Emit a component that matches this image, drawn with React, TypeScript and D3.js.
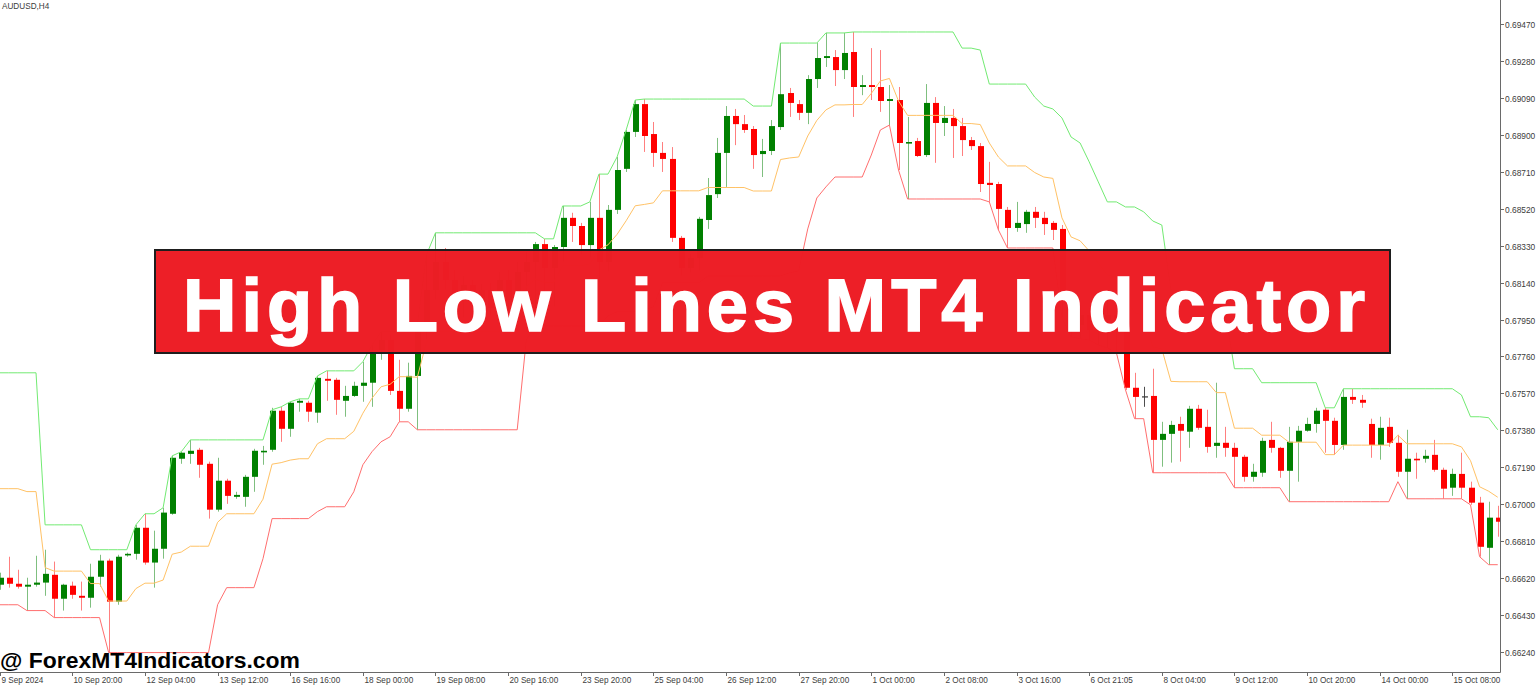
import React from 'react';
import * as d3 from 'd3';

const symbolLabel = 'AUDUSD,H4';
const bannerTitle = 'High Low Lines MT4 Indicator';
const watermark = '@ ForexMT4Indicators.com';

const open = [
  0.66586,0.66622,0.66591,0.66576,0.66586,0.66597,0.66637,0.66514,0.66581,0.66529,
  0.66519,0.66627,0.66710,0.66499,0.66740,0.66745,0.66879,0.66700,0.66771,0.66951,
  0.67234,0.67259,0.67280,0.67208,0.66972,0.67121,0.67038,0.67038,0.67141,0.67270,
  0.67280,0.67481,0.67388,0.67522,0.67522,0.67471,0.67645,0.67640,0.67532,0.67557,
  0.67609,0.67625,0.67794,0.67845,0.67583,0.67491,0.67660,0.67897,0.68102,0.68247,
  0.68154,0.68051,0.68128,0.68025,0.68102,0.68010,0.68154,0.68051,0.68195,0.68247,
  0.68338,0.68216,0.68323,0.68473,0.68431,0.68333,0.68473,0.68247,0.68514,0.68725,
  0.68915,0.69058,0.68904,0.68807,0.68776,0.68370,0.68216,0.68267,0.68462,0.68595,
  0.68807,0.68997,0.68955,0.68930,0.68801,0.68817,0.68940,0.69115,0.69058,0.69013,
  0.69187,0.69295,0.69300,0.69233,0.69326,0.69146,0.69156,0.69146,0.69074,0.69079,
  0.68858,0.68868,0.68796,0.69064,0.68961,0.68987,0.68945,0.68873,0.68842,0.68653,
  0.68647,0.68514,0.68421,0.68441,0.68504,0.68473,0.68447,0.68416,0.68051,0.67922,
  0.67974,0.67897,0.67948,0.67974,0.67897,0.67599,0.67552,0.67557,0.67331,0.67362,
  0.67413,0.67373,0.67491,0.67398,0.67300,0.67316,0.67290,0.67244,0.67141,0.67162,
  0.67331,0.67290,0.67172,0.67321,0.67378,0.67413,0.67486,0.67429,0.67305,0.67552,
  0.67537,0.67413,0.67305,0.67398,0.67316,0.67167,0.67234,0.67234,0.67254,0.67177,
  0.67085,0.67156,0.67085,0.67008,0.66776,0.66931,
];

const high = [
  0.66648,0.66730,0.66663,0.66622,0.66735,0.66766,0.66705,0.66591,0.66602,0.66602,
  0.66694,0.66740,0.66720,0.66740,0.66751,0.66894,0.66951,0.66864,0.66982,0.67249,
  0.67270,0.67331,0.67290,0.67219,0.67239,0.67131,0.67064,0.67151,0.67285,0.67300,
  0.67496,0.67501,0.67527,0.67542,0.67532,0.67660,0.67686,0.67650,0.67609,0.67630,
  0.67733,0.67819,0.67887,0.67871,0.67743,0.67728,0.67922,0.68282,0.68396,0.68318,
  0.68205,0.68174,0.68154,0.68133,0.68139,0.68195,0.68205,0.68247,0.68298,0.68349,
  0.68365,0.68333,0.68534,0.68499,0.68447,0.68555,0.68698,0.68539,0.68786,0.68925,
  0.69079,0.69084,0.68966,0.68863,0.68837,0.68380,0.68287,0.68478,0.68678,0.68884,
  0.69048,0.69033,0.69002,0.68945,0.68879,0.68976,0.69372,0.69141,0.69079,0.69207,
  0.69372,0.69424,0.69336,0.69424,0.69429,0.69207,0.69346,0.69336,0.69156,0.69146,
  0.68992,0.68884,0.69161,0.69094,0.69048,0.69033,0.68987,0.68889,0.68858,0.68761,
  0.68658,0.68529,0.68555,0.68514,0.68529,0.68504,0.68457,0.68436,0.68102,0.68025,
  0.68010,0.67959,0.68097,0.67985,0.67985,0.67676,0.67604,0.67697,0.67424,0.67429,
  0.67450,0.67506,0.67511,0.67486,0.67625,0.67398,0.67316,0.67254,0.67208,0.67342,
  0.67424,0.67295,0.67398,0.67403,0.67445,0.67496,0.67496,0.67445,0.67594,0.67594,
  0.67562,0.67440,0.67450,0.67445,0.67357,0.67383,0.67265,0.67280,0.67331,0.67188,
  0.67183,0.67265,0.67116,0.67038,0.67013,0.66992,
];

const low = [
  0.66560,0.66571,0.66566,0.66453,0.66576,0.66529,0.66417,0.66453,0.66514,0.66453,
  0.66468,0.66576,0.66237,0.66483,0.66730,0.66715,0.66689,0.66571,0.66720,0.66946,
  0.67208,0.67208,0.67136,0.66926,0.66962,0.67002,0.67028,0.66987,0.67064,0.67203,
  0.67270,0.67321,0.67347,0.67476,0.67424,0.67419,0.67532,0.67460,0.67450,0.67552,
  0.67527,0.67501,0.67743,0.67562,0.67424,0.67476,0.67383,0.67845,0.68051,0.68102,
  0.68000,0.67959,0.67969,0.67990,0.67969,0.67917,0.67969,0.68010,0.68102,0.67990,
  0.68000,0.68015,0.68247,0.68349,0.68282,0.68267,0.68139,0.68195,0.68493,0.68709,
  0.68889,0.68812,0.68735,0.68709,0.68349,0.68174,0.68190,0.68200,0.68416,0.68575,
  0.68632,0.68847,0.68910,0.68725,0.68683,0.68796,0.68925,0.68992,0.68976,0.68955,
  0.69141,0.69249,0.69151,0.69187,0.68992,0.69104,0.69079,0.69018,0.68950,0.68719,
  0.68570,0.68786,0.68786,0.68756,0.68894,0.68781,0.68791,0.68822,0.68606,0.68555,
  0.68411,0.68318,0.68401,0.68396,0.68421,0.68385,0.68359,0.67959,0.67861,0.67851,
  0.67845,0.67819,0.67804,0.67779,0.67588,0.67440,0.67501,0.67162,0.67193,0.67214,
  0.67219,0.67290,0.67383,0.67265,0.67239,0.67244,0.67085,0.67116,0.67116,0.67141,
  0.67265,0.67136,0.67013,0.67116,0.67373,0.67368,0.67265,0.67254,0.67280,0.67516,
  0.67496,0.67239,0.67229,0.67295,0.67141,0.67028,0.67131,0.67214,0.67167,0.67028,
  0.67043,0.67028,0.66997,0.66730,0.66689,0.66833,
];

const close = [
  0.66622,0.66591,0.66576,0.66586,0.66597,0.66642,0.66514,0.66586,0.66534,0.66519,
  0.66627,0.66710,0.66499,0.66730,0.66745,0.66879,0.66700,0.66771,0.66957,0.67239,
  0.67265,0.67275,0.67203,0.66972,0.67121,0.67043,0.67048,0.67141,0.67275,0.67275,
  0.67481,0.67388,0.67522,0.67532,0.67476,0.67650,0.67635,0.67537,0.67557,0.67609,
  0.67625,0.67794,0.67845,0.67583,0.67491,0.67660,0.67897,0.68102,0.68247,0.68154,
  0.68051,0.68128,0.68025,0.68102,0.68010,0.68154,0.68051,0.68195,0.68247,0.68338,
  0.68216,0.68323,0.68473,0.68431,0.68333,0.68473,0.68247,0.68514,0.68719,0.68915,
  0.69058,0.68894,0.68807,0.68776,0.68370,0.68216,0.68267,0.68468,0.68590,0.68807,
  0.68997,0.68955,0.68925,0.68796,0.68817,0.68945,0.69109,0.69064,0.69013,0.69187,
  0.69295,0.69305,0.69233,0.69321,0.69146,0.69156,0.69146,0.69074,0.69084,0.68858,
  0.68863,0.68791,0.69064,0.68961,0.68987,0.68945,0.68873,0.68842,0.68647,0.68642,
  0.68519,0.68421,0.68447,0.68504,0.68473,0.68441,0.68411,0.68051,0.67922,0.67974,
  0.67897,0.67948,0.67974,0.67897,0.67599,0.67552,0.67552,0.67331,0.67362,0.67408,
  0.67378,0.67491,0.67393,0.67295,0.67316,0.67290,0.67244,0.67141,0.67167,0.67326,
  0.67290,0.67172,0.67321,0.67378,0.67413,0.67481,0.67429,0.67305,0.67552,0.67537,
  0.67522,0.67305,0.67393,0.67316,0.67167,0.67234,0.67229,0.67249,0.67177,0.67080,
  0.67156,0.67085,0.67008,0.66781,0.66931,0.66910,
];

const upperLine = [
  0.67676,0.67676,0.67676,0.67676,0.67676,0.66894,0.66894,0.66894,0.66894,0.66894,
  0.66766,0.66766,0.66766,0.66766,0.66766,0.66894,0.66951,0.66951,0.66982,0.67249,
  0.67270,0.67331,0.67331,0.67331,0.67331,0.67331,0.67331,0.67331,0.67331,0.67331,
  0.67486,0.67501,0.67527,0.67542,0.67542,0.67660,0.67686,0.67686,0.67686,0.67686,
  0.67733,0.67819,0.67887,0.67887,0.67887,0.67887,0.67922,0.68282,0.68396,0.68396,
  0.68396,0.68396,0.68396,0.68396,0.68396,0.68396,0.68396,0.68396,0.68396,0.68396,
  0.68365,0.68365,0.68534,0.68534,0.68534,0.68555,0.68698,0.68698,0.68786,0.68925,
  0.69079,0.69084,0.69084,0.69084,0.69084,0.69084,0.69084,0.69084,0.69084,0.69084,
  0.69084,0.69084,0.69084,0.69048,0.69048,0.69048,0.69372,0.69372,0.69372,0.69372,
  0.69372,0.69424,0.69424,0.69424,0.69429,0.69429,0.69429,0.69429,0.69429,0.69429,
  0.69429,0.69429,0.69429,0.69429,0.69429,0.69429,0.69346,0.69346,0.69336,0.69161,
  0.69161,0.69161,0.69161,0.69161,0.69094,0.69048,0.69033,0.68987,0.68889,0.68858,
  0.68761,0.68658,0.68555,0.68555,0.68529,0.68529,0.68504,0.68457,0.68436,0.68102,
  0.68097,0.68097,0.68097,0.68097,0.67985,0.67985,0.67697,0.67697,0.67697,0.67625,
  0.67625,0.67625,0.67625,0.67625,0.67625,0.67625,0.67496,0.67496,0.67594,0.67594,
  0.67594,0.67594,0.67594,0.67594,0.67594,0.67594,0.67594,0.67594,0.67594,0.67594,
  0.67594,0.67562,0.67450,0.67450,0.67445,0.67383,
];

const middleLine = [
  0.67080,0.67080,0.67080,0.67065,0.67065,0.66674,0.66656,0.66656,0.66656,0.66656,
  0.66592,0.66592,0.66502,0.66502,0.66502,0.66566,0.66594,0.66594,0.66610,0.66743,
  0.66754,0.66784,0.66784,0.66784,0.66907,0.66951,0.66951,0.66951,0.66951,0.67026,
  0.67206,0.67214,0.67227,0.67234,0.67234,0.67311,0.67337,0.67337,0.67337,0.67375,
  0.67468,0.67545,0.67604,0.67617,0.67656,0.67656,0.67653,0.67833,0.67890,0.67890,
  0.67890,0.67890,0.67890,0.67890,0.67890,0.67890,0.67890,0.67890,0.68121,0.68157,
  0.68141,0.68141,0.68226,0.68226,0.68226,0.68236,0.68308,0.68334,0.68388,0.68458,
  0.68535,0.68542,0.68550,0.68612,0.68612,0.68612,0.68612,0.68612,0.68629,0.68629,
  0.68629,0.68629,0.68629,0.68611,0.68611,0.68611,0.68773,0.68781,0.68786,0.68894,
  0.68974,0.69028,0.69054,0.69054,0.69056,0.69056,0.69113,0.69177,0.69190,0.69074,
  0.69000,0.69000,0.69000,0.69000,0.69000,0.69000,0.68958,0.68958,0.68953,0.68858,
  0.68786,0.68740,0.68740,0.68740,0.68706,0.68683,0.68676,0.68473,0.68375,0.68355,
  0.68303,0.68239,0.68180,0.68167,0.68059,0.67985,0.67972,0.67810,0.67799,0.67632,
  0.67630,0.67630,0.67630,0.67630,0.67574,0.67574,0.67391,0.67391,0.67391,0.67355,
  0.67355,0.67355,0.67319,0.67319,0.67319,0.67319,0.67255,0.67255,0.67304,0.67304,
  0.67304,0.67304,0.67304,0.67304,0.67355,0.67311,0.67311,0.67311,0.67311,0.67311,
  0.67311,0.67295,0.67224,0.67090,0.67067,0.67036,
];

const lowerLine = [
  0.66483,0.66483,0.66483,0.66453,0.66453,0.66453,0.66417,0.66417,0.66417,0.66417,
  0.66417,0.66417,0.66237,0.66237,0.66237,0.66237,0.66237,0.66237,0.66237,0.66237,
  0.66237,0.66237,0.66237,0.66237,0.66483,0.66571,0.66571,0.66571,0.66571,0.66720,
  0.66926,0.66926,0.66926,0.66926,0.66926,0.66962,0.66987,0.66987,0.66987,0.67064,
  0.67203,0.67270,0.67321,0.67347,0.67424,0.67424,0.67383,0.67383,0.67383,0.67383,
  0.67383,0.67383,0.67383,0.67383,0.67383,0.67383,0.67383,0.67383,0.67845,0.67917,
  0.67917,0.67917,0.67917,0.67917,0.67917,0.67917,0.67917,0.67969,0.67990,0.67990,
  0.67990,0.68000,0.68015,0.68139,0.68139,0.68139,0.68139,0.68139,0.68174,0.68174,
  0.68174,0.68174,0.68174,0.68174,0.68174,0.68174,0.68174,0.68190,0.68200,0.68416,
  0.68575,0.68632,0.68683,0.68683,0.68683,0.68683,0.68796,0.68925,0.68950,0.68719,
  0.68570,0.68570,0.68570,0.68570,0.68570,0.68570,0.68570,0.68570,0.68570,0.68555,
  0.68411,0.68318,0.68318,0.68318,0.68318,0.68318,0.68318,0.67959,0.67861,0.67851,
  0.67845,0.67819,0.67804,0.67779,0.67588,0.67440,0.67440,0.67162,0.67162,0.67162,
  0.67162,0.67162,0.67162,0.67162,0.67162,0.67162,0.67085,0.67085,0.67085,0.67085,
  0.67085,0.67085,0.67013,0.67013,0.67013,0.67013,0.67013,0.67013,0.67013,0.67013,
  0.67013,0.67013,0.67013,0.67013,0.67116,0.67028,0.67028,0.67028,0.67028,0.67028,
  0.67028,0.67028,0.66997,0.66730,0.66689,0.66689,
];

const priceTicks = [
  0.6947, 0.6928, 0.6909, 0.689, 0.6871, 0.6852, 0.6833, 0.6814, 0.6795,
  0.6776, 0.6757, 0.6738, 0.6719, 0.67, 0.6681, 0.6662, 0.6643, 0.6624,
];

const timeTickBars = [0, 8, 16, 24, 32, 40, 48, 56, 64, 72, 80, 88, 96, 104, 112, 120, 128, 136, 144, 152, 160];
const timeTickLabels = [
  '9 Sep 2024', '10 Sep 20:00', '12 Sep 04:00', '13 Sep 12:00', '16 Sep 16:00', '18 Sep 00:00',
  '19 Sep 08:00', '20 Sep 16:00', '23 Sep 20:00', '25 Sep 04:00', '26 Sep 12:00', '27 Sep 20:00',
  '1 Oct 00:00', '2 Oct 08:00', '3 Oct 16:00', '6 Oct 21:05', '8 Oct 04:00', '9 Oct 12:00',
  '10 Oct 20:00', '14 Oct 00:00', '15 Oct 08:00',
];

const W = 1536;
const H = 685;
const plotRight = 1500;
const plotBottom = 672;

export default function App() {
  const x = d3.scaleLinear().domain([0, 160]).range([-0.3, 1452.35]);
  const y = d3.scaleLinear().domain([0.6624, 0.6947]).range([652, 24]);
  const linePath = (arr: number[]) =>
    d3.line<number>().x((_, i) => x(i)).y((d) => y(d))(arr) || '';

  const axisFont = "'Liberation Sans', Arial, sans-serif";

  return (
    <svg
      width={W}
      height={H}
      style={{ position: 'absolute', left: 0, top: 0, display: 'block' }}
      fontFamily={axisFont}
    >
      <defs>
        <clipPath id="plotClip">
          <rect x={0} y={0} width={plotRight} height={plotBottom} />
        </clipPath>
      </defs>
      <rect x={0} y={0} width={W} height={H} fill="#ffffff" />

      <g clipPath="url(#plotClip)">
        {open.map((o, i) => {
          const c = close[i];
          const cx = Math.round(x(i));
          const doji = c === o;
          const up = c > o;
          const col = doji ? '#3a3a3a' : up ? '#008000' : '#ff0000';
          const yTop = y(Math.max(o, c));
          const yBot = y(Math.min(o, c));
          const h = Math.max(1.6, yBot - yTop);
          return (
            <g key={i}>
              <line
                x1={cx + 0.5}
                x2={cx + 0.5}
                y1={y(high[i])}
                y2={y(low[i])}
                stroke={col}
                strokeOpacity={doji ? 0.9 : 0.5}
                strokeWidth={1}
              />
              {doji ? (
                <line x1={cx - 2} x2={cx + 4} y1={yTop} y2={yTop} stroke={col} strokeWidth={1.2} />
              ) : (
                <rect x={cx - 2} y={yTop} width={6} height={h} fill={col} />
              )}
            </g>
          );
        })}
        <path d={linePath(upperLine)} fill="none" stroke="#72ea72" strokeWidth={1} />
        <path d={linePath(middleLine)} fill="none" stroke="#ffc266" strokeWidth={1} />
        <path d={linePath(lowerLine)} fill="none" stroke="#ff6e6e" strokeWidth={1} />
      </g>

      {/* axes */}
      <line x1={plotRight + 0.5} x2={plotRight + 0.5} y1={0} y2={plotBottom + 0.5} stroke="#6a6a6a" strokeWidth={1} />
      <line x1={0} x2={plotRight + 0.5} y1={plotBottom + 0.5} y2={plotBottom + 0.5} stroke="#6a6a6a" strokeWidth={1} />
      {priceTicks.map((p) => {
        const yy = Math.round(y(p)) + 0.5;
        return (
          <g key={p}>
            <line x1={plotRight + 1} x2={plotRight + 4} y1={yy} y2={yy} stroke="#6a6a6a" />
            <text x={plotRight + 5} y={yy + 3} fontSize={8.4} fill="#3c3c3c">
              {p.toFixed(5)}
            </text>
          </g>
        );
      })}
      {timeTickBars.map((b, k) => {
        const xx = Math.round(x(b)) + 0.5;
        return (
          <g key={b}>
            <line x1={xx} x2={xx} y1={plotBottom + 1} y2={plotBottom + 4} stroke="#6a6a6a" />
            <text x={Math.max(0.5, xx + 1)} y={plotBottom + 11} fontSize={8.2} fill="#3c3c3c">
              {timeTickLabels[k]}
            </text>
          </g>
        );
      })}

      <text x={2} y={9} fontSize={8.2} fill="#3c3c3c">
        {symbolLabel}
      </text>

      {/* banner */}
      <rect x={155} y={250} width={1235} height={103} fill="#ed1c24" fillOpacity={0.99} stroke="#1e1e1e" strokeWidth={2} />
      <text
        x={183}
        y={331}
        fontSize={74}
        fontWeight="bold"
        fill="#ffffff"
        stroke="#ffffff"
        strokeWidth={1.6}
        fontFamily="'Liberation Sans', Arial, sans-serif"
        textLength={1182}
        lengthAdjust="spacing"
      >
        {bannerTitle}
      </text>

      {/* watermark */}
      <text
        x={0}
        y={668}
        fontSize={22}
        fontWeight="bold"
        fill="#000000"
        fontFamily="'Liberation Sans', Arial, sans-serif"
        textLength={300}
        lengthAdjust="spacingAndGlyphs"
      >
        {watermark}
      </text>
    </svg>
  );
}
